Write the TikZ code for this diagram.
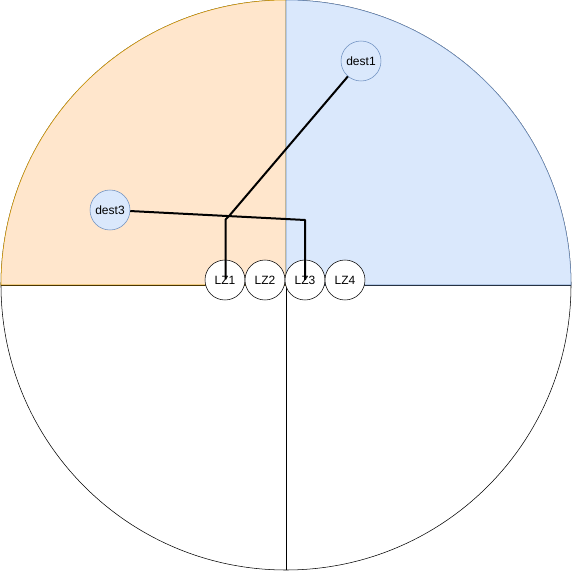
\documentclass[tikz,border=0pt]{standalone}
\usepackage{fontspec}
\setmainfont{Liberation Sans}
\definecolor{orfill}{HTML}{FFE6CC}
\definecolor{ordraw}{HTML}{D79B00}
\definecolor{blfill}{HTML}{DAE8FC}
\definecolor{bldraw}{HTML}{6C8EBF}
\tikzset{
  lz/.style={circle,draw=black,fill=white,minimum size=30pt,inner sep=0pt,font=\fontsize{9}{10}\selectfont},
  dest/.style={circle,draw=bldraw,fill=blfill,minimum size=30pt,inner sep=0pt,font=\fontsize{9}{10}\selectfont},
  conn/.style={draw=black,line width=1.5pt,line join=round}
}
\begin{document}
\begin{tikzpicture}[x=0.75pt,y=0.75pt]
\useasboundingbox (0,0) rectangle (572,572);
% bottom half
\draw[black,fill=white] (286,287) circle[radius=285];
\draw[black] (1,287) -- (571,287);
\draw[black] (286,287) -- (286,2);
% quadrants
\draw[ordraw,fill=orfill] (286,287) -- (1,287) arc[start angle=180,end angle=90,radius=285] -- cycle;
\draw[bldraw,fill=blfill] (286,287) -- (286,572) arc[start angle=90,end angle=0,radius=285] -- cycle;
% nodes
\node[lz] (LZ1) at (225,292) {LZ1};
\node[lz] (LZ2) at (265,292) {LZ2};
\node[lz] (LZ3) at (305,292) {LZ3};
\node[lz] (LZ4) at (345,292) {LZ4};
\node[dest] (dest1) at (361,511) {dest1};
\node[dest] (dest3) at (110,362) {dest3};
% connector waypoints
\coordinate (c1) at (229.5,356.5);
\coordinate (c2) at (225.7,352.7);
\coordinate (e1) at (225.7,292.5);
\coordinate (c3) at (305,352);
\coordinate (e3) at (305,292);
\draw[conn] (dest1) -- (c1) -- (c2) -- (e1);
\draw[conn] (dest3) -- (c3) -- (e3);
\end{tikzpicture}
\end{document}
